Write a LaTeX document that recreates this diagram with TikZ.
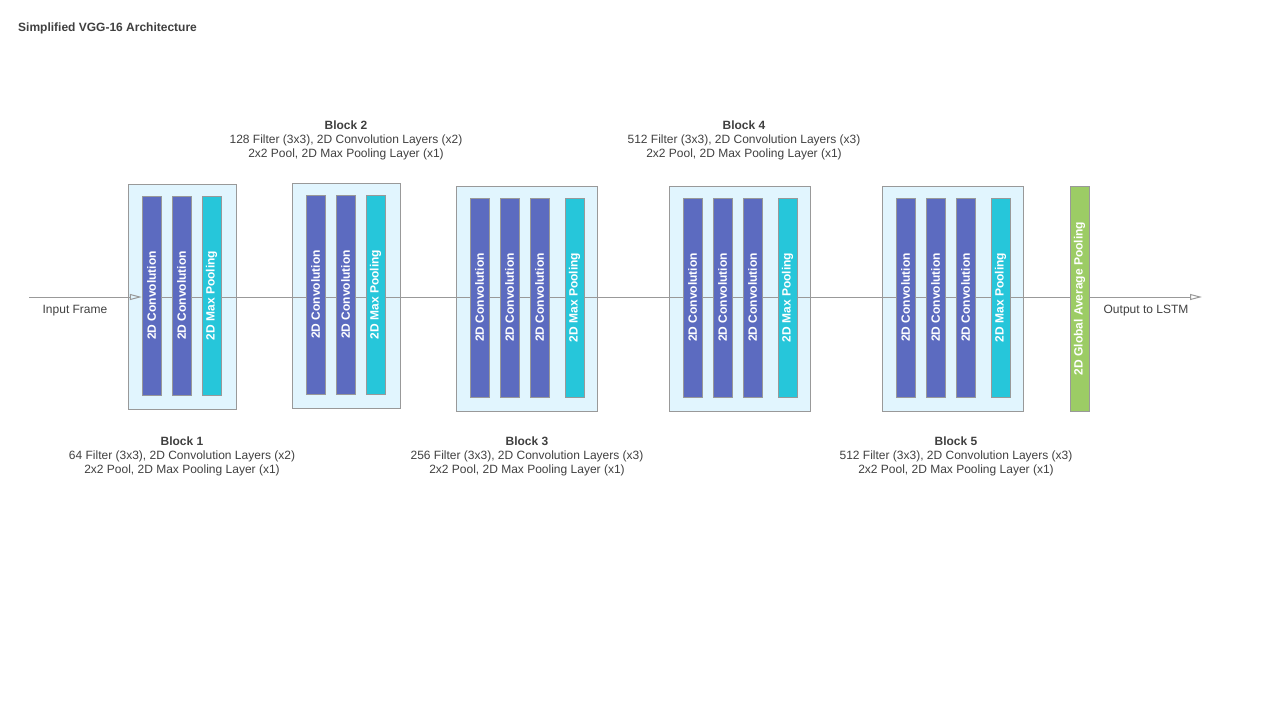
\documentclass[tikz,border=0pt]{standalone}
\usepackage{fontspec}
\setmainfont{Liberation Sans}
\usepackage{xcolor}
\usetikzlibrary{arrows.meta,backgrounds}
\definecolor{convblue}{HTML}{5C6BC0}
\definecolor{poolcyan}{HTML}{26C6DA}
\definecolor{gapgreen}{HTML}{9CCC65}
\definecolor{blockbg}{HTML}{E1F5FE}
\definecolor{edgegray}{HTML}{999999}
\definecolor{textgray}{HTML}{404040}

\begin{document}
\begin{tikzpicture}[
    x=1pt, y=-1pt,
    every node/.style={font=\fontsize{12}{14}\selectfont, text=textgray, inner sep=0pt},
    blockbox/.style={draw=edgegray, fill=blockbg, minimum height=225pt},
    layer/.style={draw=edgegray, rotate=90, minimum width=199pt, minimum height=19pt, text=white, font=\fontsize{12}{14}\selectfont\bfseries},
    conv/.style={layer, fill=convblue},
    pool/.style={layer, fill=poolcyan},
    gap/.style={layer, fill=gapgreen, minimum width=225pt},
    caption/.style={align=center},
    flow/.style={draw=edgegray, line width=1pt}
]
\useasboundingbox (0,0) rectangle (1280,720);

\node[anchor=west, font=\fontsize{12}{14}\selectfont\bfseries] (title) at (18,28) {Simplified VGG-16 Architecture};

\coordinate (in) at (29,297);
\coordinate (out) at (1202,297);

\node[conv] (conv11) at (151.5,295.5) {2D Convolution};
\node[conv] (conv12) at (181.5,295.5) {2D Convolution};
\node[pool] (pool1) at (211.5,295.5) {2D Max Pooling};

\node[conv] (conv21) at (315.5,294.5) {2D Convolution};
\node[conv] (conv22) at (345.5,294.5) {2D Convolution};
\node[pool] (pool2) at (375.5,294.5) {2D Max Pooling};

\node[conv] (conv31) at (479.5,297.5) {2D Convolution};
\node[conv] (conv32) at (509.5,297.5) {2D Convolution};
\node[conv] (conv33) at (539.5,297.5) {2D Convolution};
\node[pool] (pool3) at (574.5,297.5) {2D Max Pooling};

\node[conv] (conv41) at (692.5,297.5) {2D Convolution};
\node[conv] (conv42) at (722.5,297.5) {2D Convolution};
\node[conv] (conv43) at (752.5,297.5) {2D Convolution};
\node[pool] (pool4) at (787.5,297.5) {2D Max Pooling};

\node[conv] (conv51) at (905.5,297.5) {2D Convolution};
\node[conv] (conv52) at (935.5,297.5) {2D Convolution};
\node[conv] (conv53) at (965.5,297.5) {2D Convolution};
\node[pool] (pool5) at (1000.5,297.5) {2D Max Pooling};

\node[gap] (globalpool) at (1079.5,298.5) {2D Global Average Pooling};

\begin{pgfonlayer}{background}
\node[blockbox, minimum width=108pt] (block1) at (182,296.5) {};
\node[blockbox, minimum width=108pt] (block2) at (346,295.5) {};
\node[blockbox, minimum width=141pt] (block3) at (526.5,298.5) {};
\node[blockbox, minimum width=141pt] (block4) at (739.5,298.5) {};
\node[blockbox, minimum width=141pt] (block5) at (952.5,298.5) {};
\draw[flow, -{Triangle[open, length=12pt, width=6pt]}] (in) -- (in -| conv11.north);
\draw[flow] (in -| conv11.north) -- (in -| globalpool.north);
\draw[flow, -{Triangle[open, length=12pt, width=6pt]}] (in -| globalpool.south) -- (out);
\end{pgfonlayer}

\node (inlabel) at (75,311) {Input Frame};
\node (outlabel) at (1146,311) {Output to LSTM};

\node[caption] (cap1) at (182,456) {\textbf{Block 1}\\64 Filter (3x3), 2D Convolution Layers (x2)\\2x2 Pool, 2D Max Pooling Layer (x1)};
\node[caption] (cap2) at (346,140) {\textbf{Block 2}\\128 Filter (3x3), 2D Convolution Layers (x2)\\2x2 Pool, 2D Max Pooling Layer (x1)};
\node[caption] (cap3) at (527,456) {\textbf{Block 3}\\256 Filter (3x3), 2D Convolution Layers (x3)\\2x2 Pool, 2D Max Pooling Layer (x1)};
\node[caption] (cap4) at (744,140) {\textbf{Block 4}\\512 Filter (3x3), 2D Convolution Layers (x3)\\2x2 Pool, 2D Max Pooling Layer (x1)};
\node[caption] (cap5) at (956,456) {\textbf{Block 5}\\512 Filter (3x3), 2D Convolution Layers (x3)\\2x2 Pool, 2D Max Pooling Layer (x1)};
\end{tikzpicture}
\end{document}
